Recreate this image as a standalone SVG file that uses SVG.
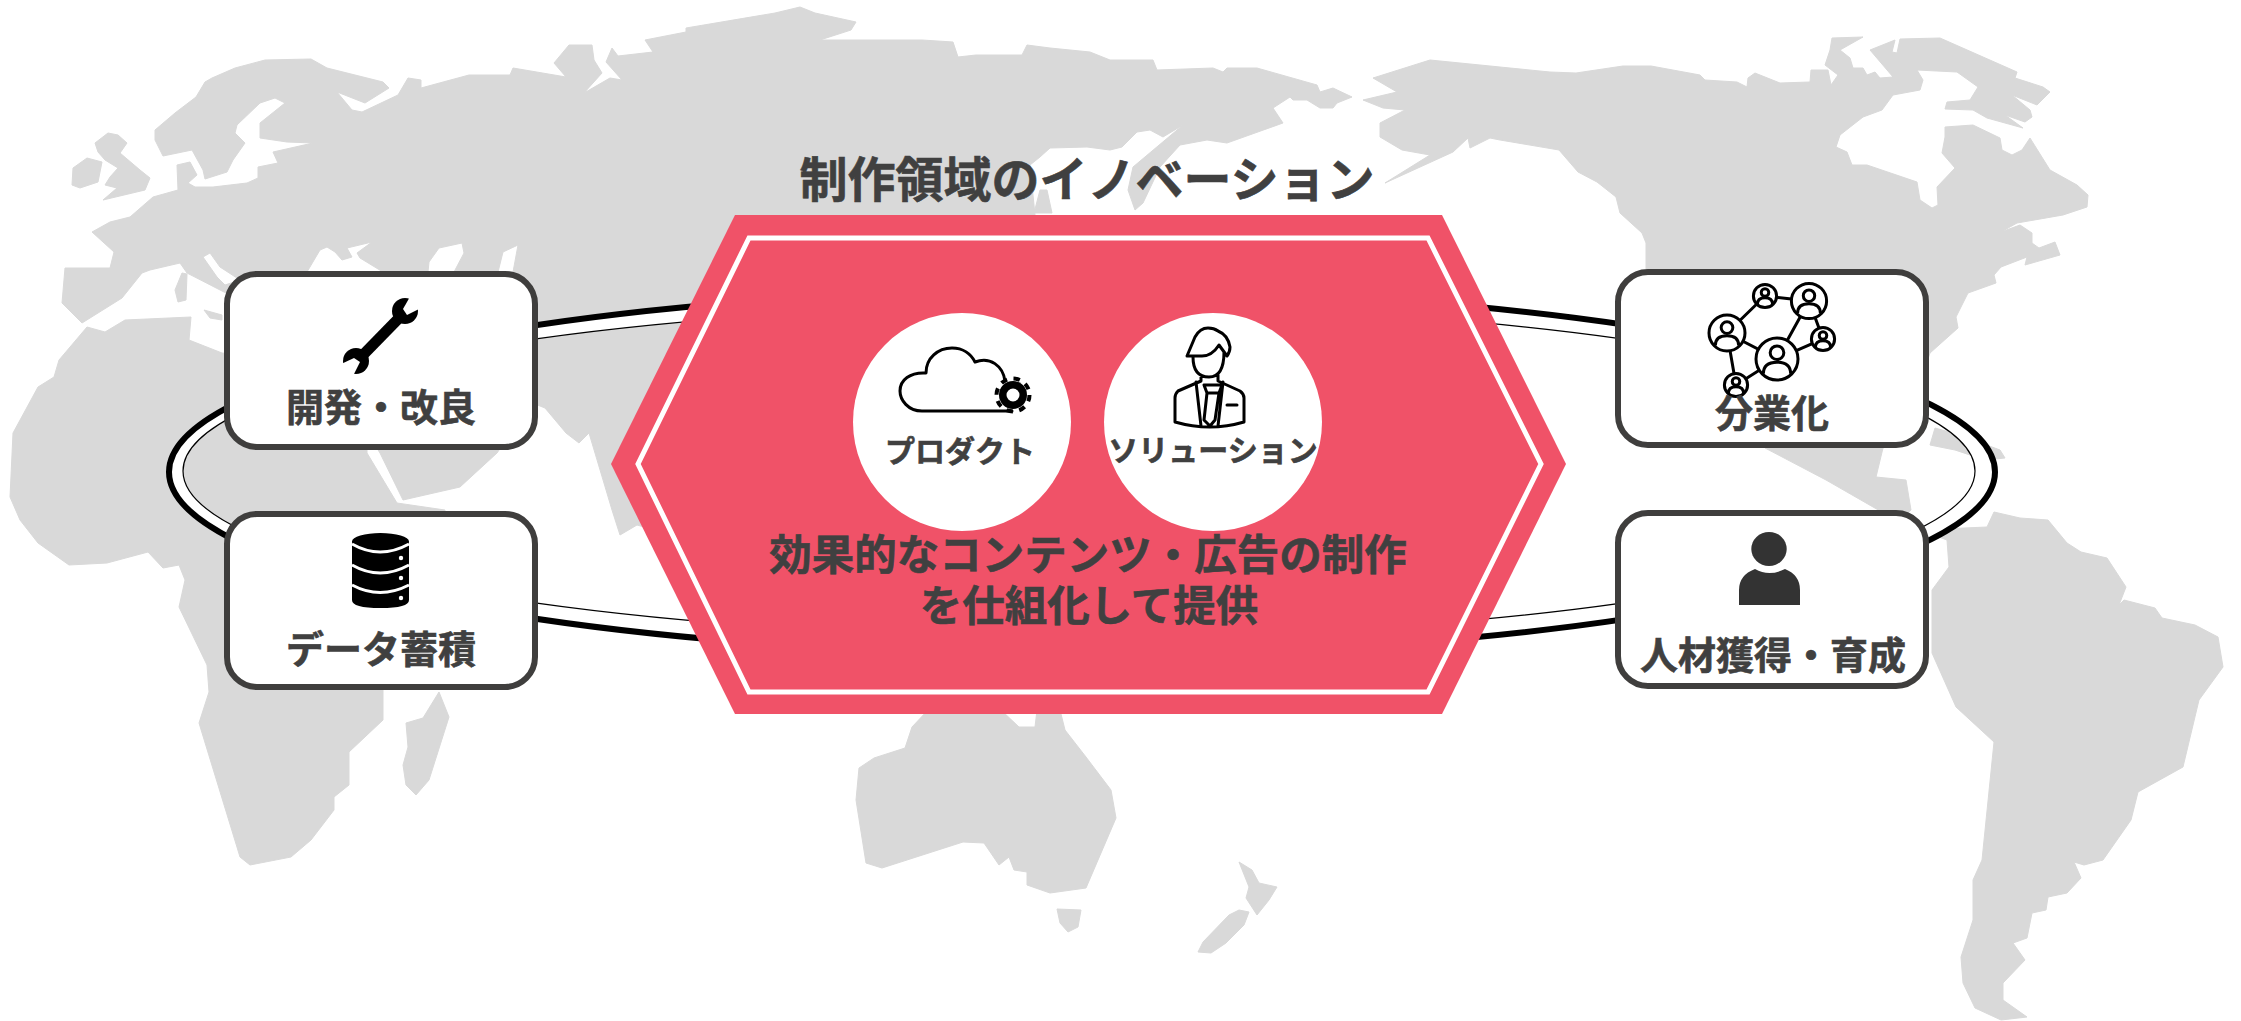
<svg xmlns="http://www.w3.org/2000/svg" xmlns:xlink="http://www.w3.org/1999/xlink" width="2241" height="1021" viewBox="0 0 2241 1021">
<style>
.map{fill:#d9d9d9;fill-rule:evenodd;stroke:#d9d9d9;stroke-width:1;stroke-linejoin:round}
.box{fill:#fff;stroke:#3f3e3d;stroke-width:6}
.t{font-family:"Noto Sans CJK JP","Noto Sans",sans-serif;font-weight:700;fill:#404040;stroke:#404040;stroke-width:.6;text-anchor:middle}
.l{font-size:38px}
.c{font-size:30px}
.m{font-size:42.500px}
.ln{fill:none;stroke:#000;stroke-width:3;stroke-linejoin:round;stroke-linecap:round}
.net{fill:#fff;stroke:#000;stroke-width:3;vector-effect:non-scaling-stroke}
.netl{fill:none;stroke:#000;stroke-width:3;vector-effect:non-scaling-stroke}
</style>
<defs>
<g id="person-node">
<circle class="net" r="20"/>
<circle class="netl" cy="-6" r="6.5"/>
<path class="netl" d="M-13 14Q-13 3 0 3Q13 3 13 14"/>
</g>
</defs>
<rect width="2241" height="1021" fill="#fff"/>
<g id="world-map">
<path class="map" d="M62 303L65 268L110 268L114 252L92 232L110 222L130 217L153 197L178 190L177 165L190 162L197 175L188 183L195 187L213 187L247 183L258 178L258 167L278 163L273 152L313 143L287 142L260 138L260 123L285 103L275 98L260 103L237 125L235 133L245 143L233 160L227 172L205 179L203 170L192 150L163 156L155 140L155 130L175 113L196 97L205 82L212 78L235 68L265 60L311 59L327 68L383 82L389 88L365 103L337 92L352 110L362 112L398 95L408 78L421 80L421 88L469 75L510 75L513 68L566 77L554 63L569 45L592 45L594 60L602 73L584 93L610 78L622 80L606 62L612 48L618 56L653 52L645 40L686 32L686 28L775 13L800 7L815 13L856 22L851 30L820 40L922 40L953 42L958 57L976 55L1022 55L1027 45L1050 48L1090 52L1110 60L1153 60L1157 70L1213 68L1223 72L1227 68L1257 68L1317 85L1320 92L1333 88L1352 97L1337 103L1333 108L1320 108L1307 100L1293 100L1290 97L1273 108L1283 123L1227 143L1207 140L1180 145L1160 167L1143 203L1135 210L1128 190L1133 167L1183 125L1163 137L1150 130L1137 132L1122 147L1110 150L1087 147L1050 148L1040 157L1030 165L1035 215L1035 300L900 600L637 525L620 535L612 510L589 433L579 443L566 433L545 408L525 400L520 420L497 453L460 487L403 500L380 453L375 445L300 330L224 292L187 273L180 263L150 270L142 273L122 298L82 323Z
M307 272L320 250L327 247L335 252L342 260L352 257L347 248L372 242L357 253L360 258L383 272Z
M428 272L429 262L439 248L462 243L464 253L454 272Z
M498 272L503 252L518 245L513 272Z
M203 257L217 277L225 285L240 280L220 267L210 253Z"/>
<path class="map" d="M1040 190L1047 190L1052 213L1034 213Z"/>
<path class="map" d="M59 360L87 327L105 332L125 320L191 317L189 340L222 353L300 360L367 445L367 453L397 503L445 510L445 600L383 690L383 720L349 752L349 785L334 797L334 810L311 840L291 857L250 865L240 857L199 723L209 692L207 665L179 607L185 580L179 565L163 568L148 552L107 563L69 565L38 543L20 520L10 497L13 433L38 387L54 377Z"/>
<path class="map" d="M175 290L182 273L187 274L186 300L178 302Z"/>
<path class="map" d="M204 310L222 315L222 320L210 318Z"/>
<path class="map" d="M95 143L108 133L118 135L127 143L120 153L140 170L150 178L145 190L103 200L117 188L105 185L110 177L118 168L105 160L98 152Z"/>
<path class="map" d="M73 168L87 158L102 162L98 182L80 188L72 185Z"/>
<path class="map" d="M439 692L449 717L429 780L416 795L406 785L403 765L408 747L406 723L423 718Z"/>
<path class="map" d="M928 710L912 727L905 748L874 758L859 768L856 800L866 863L882 868L963 842L984 843L999 865L1009 857L1014 870L1027 872L1027 885L1050 893L1086 888L1116 818L1111 790L1086 757L1065 730L1060 710L1037 710L1035 727L1019 727L1001 710Z"/>
<path class="map" d="M1057 909L1081 910L1078 927L1068 932L1060 923Z"/>
<path class="map" d="M1239 862L1252 870L1259 883L1277 887L1269 900L1257 915L1246 898L1249 887Z"/>
<path class="map" d="M1249 912L1244 925L1226 943L1211 953L1198 952L1203 942L1229 915L1239 910Z"/>
<path class="map" d="M1373 78L1430 60L1500 67L1550 72L1576 73L1623 66L1651 66L1700 75L1705 80L1737 82L1747 87L1748 78L1755 73L1780 83L1810 82L1811 70L1828 70L1831 85L1838 75L1825 65L1830 50L1832 38L1863 37L1840 50L1850 58L1853 68L1863 68L1867 75L1875 72L1880 78L1893 77L1870 50L1895 40L1892 52L1897 53L1900 39L1940 38L2017 72L2015 78L2043 87L2050 92L2037 105L2012 95L2030 110L2032 117L2025 122L2005 115L2023 128L1987 118L1973 110L1945 109L1947 102L1970 100L1978 87L1957 72L1917 70L1923 80L1920 90L1893 95L1882 110L1863 117L1840 135L1836 147L1847 152L1852 165L1867 165L1917 182L1920 200L1932 208L1938 205L1937 187L1955 168L1942 153L1945 137L1945 127L1973 125L2000 138L2002 150L2012 155L2022 150L2030 138L2050 170L2077 185L2088 195L2087 207L2063 215L2017 223L2001 232L2020 225L2032 233L2032 243L2039 248L2055 242L2060 255L2025 265L2027 257L2001 267L1994 275L1996 283L1968 293L1956 317L1958 328L1930 353L1900 440L1883 448L1876 477L1906 480L1911 510L1900 520L1887 515L1826 480L1765 448L1700 350L1646 269L1646 243L1642 233L1620 213L1616 197L1597 182L1578 172L1559 150L1500 140L1490 138L1470 148L1468 138L1453 152L1385 183L1430 155L1402 150L1380 137L1380 123L1405 110L1383 108L1363 100L1397 92Z"/>
<path class="map" d="M1935 428L1960 435L2000 450L2005 458L1985 460L1955 450L1930 445Z"/>
<path class="map" d="M1920 530L1947 540L1949 567L1932 590L1932 653L1956 707L1994 742L1982 860L1973 880L1973 920L1961 957L1963 983L1975 1008L2001 1020L2027 1017L2003 1000L2003 983L2025 960L2013 943L2027 938L2032 913L2046 910L2048 897L2067 893L2081 878L2074 862L2084 865L2103 860L2131 820L2138 792L2183 767L2199 700L2223 667L2218 637L2195 625L2162 618L2155 608L2124 600L2119 605L2126 587L2107 558L2081 552L2067 543L2048 520L2020 518L1994 512L1987 527Z"/>
</g>
<g id="connectors">
<path d="M169 472a913 183 0 1 0 1826 0a913 183 0 1 0 -1826 0ZM183 471a896 166 0 1 0 1792 0a896 166 0 1 0 -1792 0Z" fill="#fff" fill-rule="evenodd"/>
<ellipse cx="1082" cy="472" rx="913" ry="183" fill="none" stroke="#000" stroke-width="6"/>
<ellipse cx="1079" cy="471" rx="896" ry="166" fill="none" stroke="#000" stroke-width="1.2"/>
</g>
<text id="title" class="t" x="1087" y="197" font-size="48">制作領域のイノベーション</text>
<g id="hexagon">
<polygon points="735,215 1442,215 1566,464 1442,714 735,714 611,464" fill="#f05268"/>
<polygon points="749,238 1428,238 1541,464 1428,692 749,692 638,464" fill="none" stroke="#fff" stroke-width="5"/>
<text class="t m" x="1088" y="570">効果的なコンテンツ・広告の制作</text>
<text class="t m" x="1089" y="621">を仕組化して提供</text>
</g>
<g id="product">
<circle cx="962" cy="422" r="109" fill="#fff"/>
<path class="ln" d="M1012 411H922C908 411 900 400 900 391C900 380 910 372 926 373C926 358 938 348 952 348C963 348 971 354 975 362C990 356 1003 366 1005 381"/>
<circle cx="1013" cy="395" r="14"/>
<circle cx="1013" cy="395" r="16.5" fill="none" stroke="#000" stroke-width="4" stroke-dasharray="6.48 6.48"/>
<circle cx="1013" cy="395" r="6.5" fill="#fff"/>
<text class="t c" x="960" y="462">プロダクト</text>
</g>
<g id="solution">
<circle cx="1213" cy="422" r="109" fill="#fff"/>
<path class="ln" d="M1187 356L1195 337Q1200 328 1208 328Q1214 328 1218 331Q1228 335 1230 347Q1230 352 1227 356L1219 345Q1212 356 1202 356ZM1193 357Q1193 377 1209 377Q1224 377 1224 352M1201 375V381L1178 391Q1175 394 1175 398V422Q1210 432 1244 422V398Q1244 394 1240 391L1218 381V375M1196 382L1201 426M1223 382L1218 426M1204 385H1222L1219 393H1207ZM1207 393L1204 420L1210 426L1215 420L1219 393M1227 405H1237"/>
<text class="t c" x="1213" y="461">ソリューション</text>
</g>
<g id="dev">
<rect class="box" x="227" y="274" width="308" height="173" rx="30"/>
<circle cx="405" cy="311" r="13"/>
<circle cx="356" cy="361" r="13"/>
<path d="M360 358L402 315" stroke="#000" stroke-width="11"/>
<polygon points="411,295 423,307 407,315 403,309" fill="#fff"/>
<polygon points="339,365 352,378 360,362 354,358" fill="#fff"/>
<text class="t l" x="381" y="421">開発・改良</text>
</g>
<g id="data">
<rect class="box" x="227" y="514" width="308" height="173" rx="30"/>
<path d="M352 541.500A28.500 8.500 0 0 1 409 541.500V600Q409 608 380.500 608Q352 608 352 600Z"/>
<path d="M352 544Q380 560 409 544M352 565Q380 581 409 565M352 585Q380 600 409 585" fill="none" stroke="#fff" stroke-width="3"/>
<circle cx="401" cy="558" r="2.200" fill="#fff"/><circle cx="401" cy="578" r="2.200" fill="#fff"/><circle cx="401" cy="598" r="2.200" fill="#fff"/>
<text class="t l" x="381" y="663">データ蓄積</text>
</g>
<g id="division">
<rect class="box" x="1618" y="272" width="308" height="173" rx="30"/>
<path d="M1727 333L1765 296L1809 301L1823 339L1777 359L1809 301M1727 333L1777 359L1736 385L1727 333" fill="none" stroke="#000" stroke-width="3"/>
<use xlink:href="#person-node" href="#person-node" transform="translate(1727 333) scale(.9)"/>
<use xlink:href="#person-node" href="#person-node" transform="translate(1765 296) scale(.58)"/>
<use xlink:href="#person-node" href="#person-node" transform="translate(1809 301) scale(.88)"/>
<use xlink:href="#person-node" href="#person-node" transform="translate(1823 339) scale(.58)"/>
<use xlink:href="#person-node" href="#person-node" transform="translate(1777 359) scale(1.05)"/>
<use xlink:href="#person-node" href="#person-node" transform="translate(1736 385) scale(.58)"/>
<text class="t l" x="1772" y="427">分業化</text>
</g>
<g id="talent">
<rect class="box" x="1618" y="513" width="308" height="173" rx="30"/>
<ellipse cx="1769" cy="549" rx="17.700" ry="17" fill="#333"/>
<path d="M1739 605V590Q1739 575 1755 569Q1769 577 1785 569Q1800 575 1800 590V605Z" fill="#333"/>
<text class="t l" x="1773" y="669">人材獲得・育成</text>
</g>
</svg>
